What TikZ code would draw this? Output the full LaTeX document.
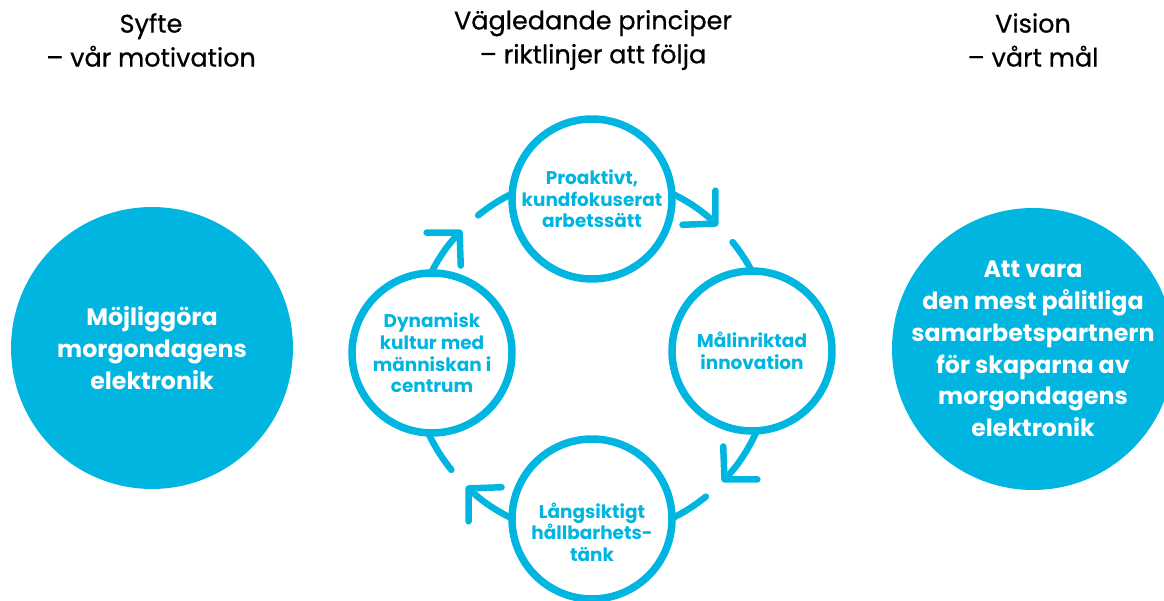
\documentclass[tikz,border=0pt]{standalone}
\usepackage{fontspec}
\setmainfont{Poppins}
\newfontfamily\rubrikfont{Poppins}[FakeBold=0.6]
\usetikzlibrary{arrows.meta,calc}
\definecolor{cyanbla}{RGB}{0,181,224}
\begin{document}
\begin{tikzpicture}[x=0.02cm,y=0.02cm]
% Styles
\tikzstyle{rubrik}=[align=center,font=\rubrikfont\fontsize{14.5}{19.3}\selectfont]
\tikzstyle{skiva}=[circle,fill=cyanbla,text=white,align=center,minimum size=5.64cm,inner sep=0pt,font=\bfseries\fontsize{13.5}{18.1}\selectfont]
\tikzstyle{krets}=[circle,draw=cyanbla,line width=0.15cm,fill=white,text=cyanbla,align=center,minimum size=3.2cm,inner sep=0pt,font=\bfseries\fontsize{10.5}{12.3}\selectfont]
\tikzstyle{pil}=[draw=cyanbla,line width=0.13cm,line cap=round,-{Straight Barb[length=13pt,width=27pt,round]}]
\tikzstyle{linje}=[draw=cyanbla,line width=0.13cm,line cap=round]
% Dimensions
\def\R{3.62cm}
\useasboundingbox (0,0) rectangle (1164,601);
% Rubriker
\node[rubrik] (syfte) at (151,561) {Syfte\\– vår motivation};
\node[rubrik] (princip) at (593,561) {Vägledande principer\\– riktlinjer att följa};
\node[rubrik] (vision) at (1033,561) {Vision\\– vårt mål};
% Cirkelns mitt
\coordinate (mid) at (592,245);
\coordinate (a1) at ($(mid)+(75:\R)$);
\coordinate (b1) at ($(mid)+(39:\R)$);
\coordinate (a2) at ($(mid)+(-15:\R)$);
\coordinate (b2) at ($(mid)+(-51:\R)$);
\coordinate (a3) at ($(mid)+(-105:\R)$);
\coordinate (b3) at ($(mid)+(-141:\R)$);
\coordinate (a4) at ($(mid)+(165:\R)$);
\coordinate (b4) at ($(mid)+(129:\R)$);
% Pilar
\draw[pil] (a1) arc[start angle=75,end angle=46,radius=\R];
\draw[linje] (b1) arc[start angle=39,end angle=15,radius=\R];
\draw[pil] (a2) arc[start angle=-15,end angle=-44,radius=\R];
\draw[linje] (b2) arc[start angle=-51,end angle=-75,radius=\R];
\draw[pil] (a3) arc[start angle=-105,end angle=-134,radius=\R];
\draw[linje] (b3) arc[start angle=-141,end angle=-165,radius=\R];
\draw[pil] (a4) arc[start angle=165,end angle=136,radius=\R];
\draw[linje] (b4) arc[start angle=129,end angle=105,radius=\R];
% Principer
\node[krets] (proaktiv) at (592,402) {Proaktivt,\\kundfokuserat\\arbetssätt};
\node[krets] (malinriktad) at (752,250) {Målinriktad\\innovation};
\node[krets] (langsiktig) at (592,82) {};
\node[krets] (dynamisk) at (432,248) {Dynamisk\\kultur med\\människan i\\centrum};
\node[text=cyanbla,align=center,font=\bfseries\fontsize{10.5}{12.3}\selectfont] (langtext) at ($(langsiktig)+(0,-13)$) {Långsiktigt\\hållbarhets-\\tänk};
% Syfte och vision
\node[skiva] (mojlig) at (152,253) {Möjliggöra\\morgondagens\\elektronik};
\node[skiva] (partner) at (1033,252) {};
\node[text=white,align=center,font=\bfseries\fontsize{13.5}{18.1}\selectfont] (visiontext) at (partner) {Att vara\\den mest pålitliga\\samarbetspartnern\\för skaparna av\\morgondagens\\elektronik};
\end{tikzpicture}
\end{document}
